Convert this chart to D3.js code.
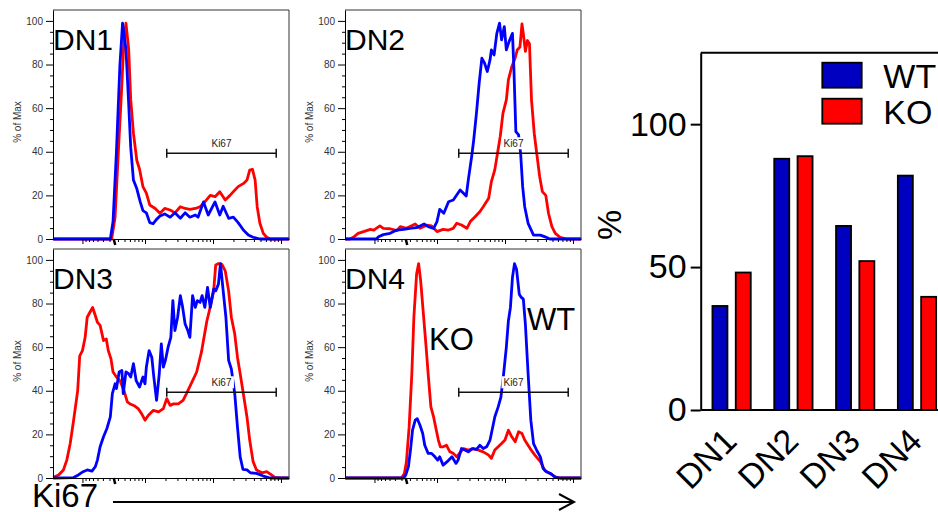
<!DOCTYPE html>
<html>
<head>
<meta charset="utf-8">
<script src="https://cdn.jsdelivr.net/npm/d3@7"></script>
<style>
  body { margin: 0; background: #fff; }
  svg { display: block; font-family: "Liberation Sans", Arial, sans-serif; }
</style>
</head>
<body>
<svg id="fig" width="938" height="512"></svg>
<script>
// Histogram-data: [Ki67 (log-kanal), % of Max]
const dn1WT = [[0.65,0],[1.49,0],[1.53,8],[1.58,40],[1.63,79],[1.67,99],[1.72,87],[1.76,62],[1.79,42],[1.83,27],[1.88,23],[1.93,17],[1.97,13],[2.02,12],[2.07,7.5],[2.12,7],[2.17,9],[2.22,10.5],[2.29,11.5],[2.37,10],[2.44,12],[2.52,9.5],[2.59,12],[2.66,10],[2.74,11],[2.78,10],[2.86,17],[2.93,11],[3.03,17],[3.10,11],[3.15,15],[3.23,9.5],[3.30,10],[3.37,7.5],[3.45,4],[3.52,1.8],[3.59,0.8],[3.69,0],[4.12,0]];
const dn1KO = [[0.65,0],[1.51,0],[1.56,10],[1.61,41],[1.66,71],[1.69,91],[1.72,99],[1.76,87],[1.79,64],[1.83,48.5],[1.88,36],[1.92,32],[1.97,24],[2.02,21],[2.07,15.6],[2.15,14],[2.22,11.8],[2.29,14],[2.37,13.3],[2.44,12],[2.52,14.8],[2.59,14],[2.66,13.6],[2.74,14],[2.81,14.8],[2.88,17],[2.96,20],[3.03,19.4],[3.10,21.7],[3.18,17.9],[3.25,20],[3.30,21.7],[3.37,24],[3.45,25.5],[3.50,27],[3.54,31.6],[3.58,32],[3.62,27],[3.65,14.8],[3.69,7.2],[3.74,2.6],[3.79,0.8],[3.84,0],[4.12,0]];
const dn2WT = [[0.65,0],[1.11,0],[1.14,1],[1.21,2],[1.31,2.6],[1.41,4.1],[1.51,4.4],[1.60,4.9],[1.70,5.2],[1.81,6.9],[1.87,5.7],[1.95,4.9],[2.00,8],[2.04,13.6],[2.10,11.8],[2.17,17.1],[2.24,17.9],[2.29,20.2],[2.34,22.5],[2.39,21],[2.43,19.7],[2.46,27],[2.51,37.8],[2.54,45.4],[2.58,57.6],[2.62,71.4],[2.66,82.9],[2.70,80.6],[2.74,76.8],[2.78,82.1],[2.80,86.7],[2.84,84.4],[2.88,94.3],[2.92,99],[2.95,91.3],[2.99,97.4],[3.02,86.7],[3.06,90.5],[3.11,94.3],[3.13,79],[3.16,49.2],[3.20,47.7],[3.23,39.3],[3.26,24],[3.29,14.8],[3.34,7.2],[3.42,1.8],[3.52,1.8],[3.59,1],[3.66,0],[4.12,0]];
const dn2KO = [[0.65,0],[0.72,0],[0.77,0.8],[0.84,2.6],[0.92,3.4],[1.02,4.4],[1.07,4.1],[1.16,6],[1.21,4.9],[1.31,4.7],[1.41,3.8],[1.46,5.7],[1.55,4.9],[1.68,6.9],[1.75,4.9],[1.85,6.3],[1.92,6],[2.00,3.4],[2.09,4.4],[2.17,4.1],[2.24,4.9],[2.29,7.2],[2.36,6.4],[2.44,4.9],[2.49,8],[2.56,10.2],[2.63,12.5],[2.68,14.8],[2.76,18.7],[2.80,26.3],[2.85,31.7],[2.89,39.3],[2.93,47],[2.97,57.6],[3.02,63.8],[3.05,73],[3.10,79],[3.15,83],[3.18,86.7],[3.22,88],[3.25,98.6],[3.27,94],[3.30,86],[3.33,91],[3.36,89.5],[3.39,63.8],[3.43,48.5],[3.47,38.5],[3.51,28.6],[3.55,21.7],[3.60,20],[3.64,11.8],[3.69,5.7],[3.74,2.6],[3.81,0.8],[3.91,0],[4.12,0]];
const dn3WT = [[0.65,0],[0.95,0.2],[1.02,1.4],[1.09,2.9],[1.15,3.7],[1.22,3.2],[1.27,5.2],[1.30,8.2],[1.34,14.3],[1.39,18.9],[1.44,22.7],[1.49,28],[1.52,38.7],[1.56,43.2],[1.58,41],[1.62,48.6],[1.66,49.3],[1.68,38.7],[1.72,48.6],[1.76,47.8],[1.79,46.3],[1.83,52.4],[1.87,44.7],[1.92,41.7],[1.97,46.3],[2.00,43.2],[2.02,50.8],[2.06,58.4],[2.10,55.4],[2.13,46.3],[2.17,35.6],[2.21,47.8],[2.24,61.5],[2.27,50.8],[2.30,53.9],[2.34,60],[2.38,64.5],[2.41,81.3],[2.44,67.6],[2.48,73.7],[2.52,83.6],[2.55,79],[2.59,70.6],[2.63,67.6],[2.66,64.5],[2.70,83.6],[2.74,78.2],[2.77,81.3],[2.81,80.5],[2.84,83.6],[2.88,78.2],[2.92,87.4],[2.96,78.2],[3.01,86.6],[3.04,85.8],[3.08,88.9],[3.11,98.3],[3.15,85.8],[3.19,73.7],[3.23,53.9],[3.27,50],[3.32,38.7],[3.36,23.4],[3.40,9.7],[3.44,4],[3.50,3.7],[3.55,2.4],[3.64,2.1],[3.74,0.9],[3.84,0],[4.12,0]];
const dn3KO = [[0.65,0.3],[0.73,1.4],[0.80,3.7],[0.85,8.2],[0.90,15.8],[0.95,26.5],[1.01,40],[1.04,56],[1.08,58.4],[1.12,64.5],[1.15,73.7],[1.19,76],[1.23,78.2],[1.27,74.4],[1.30,71.4],[1.34,70],[1.39,63],[1.43,63.8],[1.46,58.4],[1.50,54.6],[1.53,48.6],[1.58,46.3],[1.63,44.7],[1.69,40.2],[1.74,34.9],[1.79,33.8],[1.85,33],[1.90,31.8],[1.95,29.5],[2.00,26.5],[2.05,28.8],[2.12,31],[2.20,30.3],[2.27,31.8],[2.32,36.4],[2.37,33.3],[2.42,34],[2.49,34],[2.56,35.6],[2.61,38.7],[2.69,44],[2.76,48.6],[2.83,57.7],[2.91,72],[2.97,79.8],[3.01,85.8],[3.04,97.7],[3.08,98.3],[3.13,98],[3.18,95],[3.23,85.8],[3.27,73.7],[3.32,66],[3.36,55.4],[3.40,47.8],[3.45,37.9],[3.50,28],[3.54,17.4],[3.59,7.5],[3.64,3.7],[3.72,2.4],[3.79,2.9],[3.86,1.4],[3.91,0.3],[3.99,0],[4.12,0]];
const dn4WT = [[0.65,0],[1.51,0],[1.54,1.4],[1.58,5.2],[1.61,12.8],[1.64,21.9],[1.68,26.5],[1.71,27.2],[1.75,24.2],[1.79,20.4],[1.82,15],[1.87,11.3],[1.92,11.3],[1.97,9.7],[2.01,8.2],[2.04,9.7],[2.09,5.9],[2.15,7.5],[2.22,9.7],[2.28,6.7],[2.31,8.2],[2.36,13.5],[2.41,12.8],[2.46,12],[2.52,13.5],[2.58,13.1],[2.63,15],[2.68,13.5],[2.73,14.3],[2.78,17.4],[2.82,23.4],[2.85,28],[2.90,32.6],[2.94,37.1],[2.98,47.8],[3.02,60],[3.05,72],[3.08,78.2],[3.11,92],[3.14,98.3],[3.17,95.7],[3.21,84.3],[3.24,82.8],[3.27,82],[3.30,70.6],[3.34,47.8],[3.38,26.5],[3.42,15.8],[3.47,12.5],[3.52,9.7],[3.56,4.4],[3.61,2.9],[3.67,2.1],[3.74,0.3],[3.81,0],[4.12,0]];
const dn4KO = [[0.65,0],[1.48,0],[1.52,2.1],[1.55,7.3],[1.59,23.3],[1.63,47.8],[1.66,73.7],[1.70,93.5],[1.73,98.3],[1.76,90.4],[1.80,75.2],[1.84,60],[1.87,47.8],[1.91,32.6],[1.95,28],[1.99,21.9],[2.02,17.4],[2.05,14.3],[2.09,14.3],[2.14,15],[2.19,12],[2.24,11.3],[2.29,9.7],[2.33,11.3],[2.39,13.5],[2.46,12.8],[2.53,13.5],[2.61,12.8],[2.68,12],[2.76,10.5],[2.80,9],[2.85,12.8],[2.90,14.3],[2.95,15.8],[3.00,17.4],[3.05,21.9],[3.10,18.9],[3.15,16.6],[3.20,21.2],[3.25,20.4],[3.29,17.4],[3.37,13.5],[3.44,10.5],[3.52,7.5],[3.59,3.3],[3.66,2.1],[3.74,0.5],[3.81,0],[4.12,0]];

const panelNames = ["DN1", "DN2", "DN3", "DN4"];
const ki67Domain = [0.647, 4.118];
const pctTicks = [0, 20, 40, 60, 80, 100];
const xMajorTicks = [2, 3, 4];
const zeroChannel = 1.54;
const gateRange = [2.32, 3.93];
const gateLevel = 39.3;

// Stapeldiagram
const barCategories = ["DN1", "DN2", "DN3", "DN4"];
const barSeries = ["WT", "KO"];
const wtPercent = [36.4, 87.9, 64.4, 82.0];
const koPercent = [48.1, 88.8, 52.1, 39.6];
const barTicks = [0, 50, 100];

const wtLine = "#0000ff", koLine = "#ff0000";
const wtFill = "#0000c0", koFill = "#ff0000";

const svg = d3.select("#fig");

// ---------- histogrammen ----------
const panelW = 236, panelH = 229;
const panelPos = [[53, 10], [345, 10], [53, 249], [345, 249]];
const curves = [[dn1WT, dn1KO], [dn2WT, dn2KO], [dn3WT, dn3KO], [dn4WT, dn4KO]];

const x = d3.scaleLinear().domain(ki67Domain).range([0, panelW]);
const y = d3.scaleLinear().domain([0, 105]).range([panelH, 0]);
const line = d3.line().x(d => x(d[0])).y(d => y(d[1]));

// log-liknande minor ticks (logicle), speglade runt noll
const minorX = [];
for (let n = 1; n <= 3; n++) {
  for (let k = 2; k <= 9; k++) {
    const v = n + Math.log10(k);
    if (v > zeroChannel + 0.03 && v < ki67Domain[1]) minorX.push(v);
  }
}
const mirrored = minorX.filter(v => v < 2).map(v => 2 * zeroChannel - v);
const majorX = [2 * zeroChannel - 2].concat(xMajorTicks);

panelNames.forEach((name, i) => {
  const g = svg.append("g").attr("transform", "translate(" + panelPos[i] + ")");
  const [wt, ko] = curves[i];

  g.append("path").datum(ko).attr("d", line)
    .attr("fill", "none").attr("stroke", koLine).attr("stroke-width", 2.8).attr("stroke-linejoin", "round");
  g.append("path").datum(wt).attr("d", line)
    .attr("fill", "none").attr("stroke", wtLine).attr("stroke-width", 2.8).attr("stroke-linejoin", "round");

  // Ki67 gate
  const gy = y(gateLevel);
  const lab = g.append("text")
    .attr("x", x((gateRange[0] + gateRange[1]) / 2))
    .attr("y", gy - 6)
    .attr("text-anchor", "middle")
    .attr("font-size", 10)
    .attr("fill", "#222")
    .text("Ki67");
  const bb = lab.node().getBBox();
  g.insert("rect", "text")
    .attr("x", bb.x - 2).attr("y", bb.y - 1)
    .attr("width", bb.width + 4).attr("height", bb.height + 1)
    .attr("fill", "#fff");
  g.append("path")
    .attr("d", "M" + x(gateRange[0]) + "," + gy + "H" + x(gateRange[1]) +
      "M" + x(gateRange[0]) + "," + (gy - 4.5) + "V" + (gy + 4.5) +
      "M" + x(gateRange[1]) + "," + (gy - 4.5) + "V" + (gy + 4.5))
    .attr("stroke", "#111").attr("stroke-width", 1.5).attr("fill", "none");

  // ram
  g.append("path")
    .attr("d", "M0," + y(105) + "H" + panelW + "V" + panelH)
    .attr("fill", "none").attr("stroke", "#333").attr("stroke-width", 1);

  // y-axel
  const ya = g.append("g")
    .call(d3.axisLeft(y).tickValues(pctTicks).tickSize(7).tickPadding(3).tickSizeOuter(0));
  ya.selectAll("text").attr("font-size", 10).attr("font-family", "Liberation Sans, Arial, sans-serif").attr("fill", "#333");
  g.append("g")
    .call(d3.axisLeft(y).tickValues(d3.range(5, 105, 5).filter(v => v % 20)).tickSize(3).tickFormat(""))
    .select(".domain").remove();

  // x-axel
  g.append("g").attr("transform", "translate(0," + panelH + ")")
    .call(d3.axisBottom(x).tickValues(majorX).tickSize(5).tickFormat("").tickSizeOuter(0));
  g.append("g").attr("transform", "translate(0," + panelH + ")")
    .call(d3.axisBottom(x).tickValues(minorX.concat(mirrored)).tickSize(3).tickFormat(""))
    .select(".domain").remove();
  g.append("line")
    .attr("x1", x(zeroChannel)).attr("x2", x(zeroChannel) + 1.5)
    .attr("y1", panelH).attr("y2", panelH + 6)
    .attr("stroke", "#000").attr("stroke-width", 2.5);

  g.append("text")
    .attr("transform", "translate(-32," + 112 + ") rotate(-90)")
    .attr("text-anchor", "middle")
    .attr("font-size", 10)
    .attr("fill", "#333")
    .text("% of Max");

  g.append("text")
    .attr("x", 0).attr("y", 39.5)
    .attr("font-size", 30)
    .text(name);
});

// DN4 annoteringar
svg.append("text").attr("x", 429).attr("y", 350).attr("font-size", 31).text("KO");
svg.append("text").attr("x", 527).attr("y", 330).attr("font-size", 31).text("WT");

// Ki67-pil
svg.append("text").attr("x", 32).attr("y", 507).attr("font-size", 33).text("Ki67");
svg.append("path")
  .attr("d", "M113,502H573M559,494L574,502L559,510")
  .attr("fill", "none").attr("stroke", "#000").attr("stroke-width", 2);

// ---------- stapeldiagram ----------
const by = d3.scaleLinear().domain([0, 125]).range([410, 52.7]);
const bx = d3.scaleBand().domain(barCategories).range([700.7, 947.9]).paddingInner(0.38).paddingOuter(0.19);
const bx1 = d3.scaleBand().domain(barSeries).range([0, bx.bandwidth()]).paddingInner(0.356);
const barColor = d3.scaleOrdinal().domain(barSeries).range([wtFill, koFill]);

const barData = [];
barCategories.forEach((c, i) => {
  barData.push({ cat: c, series: "WT", value: wtPercent[i] });
  barData.push({ cat: c, series: "KO", value: koPercent[i] });
});

const bars = svg.append("g");
bars.selectAll("rect").data(barData).join("rect")
  .attr("x", d => bx(d.cat) + bx1(d.series))
  .attr("y", d => by(d.value))
  .attr("width", bx1.bandwidth())
  .attr("height", d => by(0) - by(d.value))
  .attr("fill", d => barColor(d.series))
  .attr("stroke", "#000")
  .attr("stroke-width", 1.8);

// axlar
const bya = svg.append("g").attr("transform", "translate(700.7,0)")
  .call(d3.axisLeft(by).tickValues(barTicks).tickSize(10).tickPadding(4).tickSizeOuter(0));
bya.selectAll("text").attr("font-size", 34).attr("font-family", "Liberation Sans, Arial, sans-serif").attr("fill", "#000");
bya.selectAll("line,path").attr("stroke-width", 2);
svg.append("path")
  .attr("d", "M700.7," + by(0) + "H938M700.7," + by(125) + "H938")
  .attr("stroke", "#000").attr("stroke-width", 2).attr("fill", "none");

svg.append("text")
  .attr("transform", "translate(621,225) rotate(-90)")
  .attr("text-anchor", "middle")
  .attr("font-size", 34)
  .text("%");

svg.append("g").selectAll("text").data(barCategories).join("text")
  .attr("transform", d => "translate(" + (bx(d) + bx.bandwidth() / 2 + 7) + ",443) rotate(-45)")
  .attr("text-anchor", "end")
  .attr("font-size", 34)
  .text(d => d);

// legend
const leg = svg.append("g").selectAll("g").data(barSeries).join("g")
  .attr("transform", (d, i) => "translate(822.3," + (62.7 + i * 36) + ")");
leg.append("rect").attr("width", 39.4).attr("height", 25)
  .attr("fill", d => barColor(d)).attr("stroke", "#000").attr("stroke-width", 1.8);
leg.append("text").attr("x", 61).attr("y", 25.5).attr("font-size", 34).text(d => d);
</script>
</body>
</html>
